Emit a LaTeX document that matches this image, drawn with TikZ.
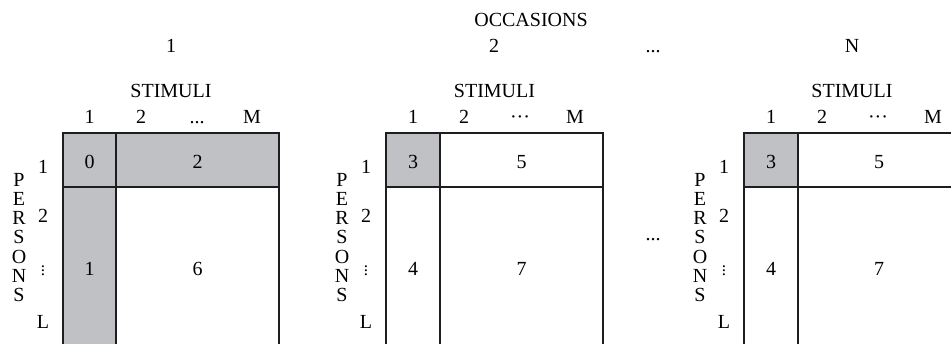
\documentclass[tikz,border=0pt]{standalone}
\usepackage{fontspec}
\setmainfont{Liberation Serif}
\definecolor{cellgray}{RGB}{192,193,197}
\definecolor{linecol}{RGB}{30,30,30}
\begin{document}
\begin{tikzpicture}[x=1pt,y=-1pt,
  lbl/.style={font=\fontsize{20}{24}\selectfont, inner sep=0pt, anchor=base},
  vd/.style={font=\fontsize{17}{20}\selectfont, inner sep=0pt},
  grid/.style={draw=linecol, line width=1.1pt},
  shade/.style={fill=cellgray}]
\useasboundingbox (0,0) rectangle (951,343);
\clip (0,0) rectangle (951,343);

% top labels
\node[lbl] (occ) at (531,26.5) {OCCASIONS};
\node[lbl] (o1) at (171,52) {1};
\node[lbl] (o2) at (494,52) {2};
\node[lbl] (odots) at (653,52) {...};
\node[lbl] (oN) at (852,52) {N};
\node[lbl] (mdots) at (653,240) {...};

% shading
\fill[shade] (63,133) rectangle (116,345);
\fill[shade] (63,133) rectangle (279,187);
\fill[shade] (386,133) rectangle (440,187);
\fill[shade] (744,133) rectangle (798,187);

% matrices: left / divider / right / name
\foreach \L/\D/\R/\m in {63/116/279/a, 386/440/603/b, 744/798/960/c} {
  \pgfmathsetmacro{\C}{(\L+\R)/2}
  \pgfmathsetmacro{\Ca}{(\L+\D)/2}
  \draw[grid] (\L,345) -- (\L,133) -- (\R,133) -- (\R,345);
  \draw[grid] (\D,133) -- (\D,345);
  \draw[grid] (\L,187) -- (\R,187);
  \node[lbl] (\m-stim) at (\C,97) {STIMULI};
  \node[lbl] (\m-c1) at (\Ca,123) {1};
  \node[lbl] (\m-c2) at (\L+78,123) {2};
  \node[lbl] (\m-cM) at (\L+189,123) {M};
  \node[lbl] (\m-r1) at (\L-20,173) {1};
  \node[lbl] (\m-r2) at (\L-20,222) {2};
  \node[vd] (\m-rv) at (\L-20,268) {$\vdots$};
  \node[lbl] (\m-rL) at (\L-20,328.5) {L};
  \foreach \l [count=\i from 0] in {P,E,R,S,O,N,S}
    \node[lbl] (\m-p\i) at (\L-44,186.6+19.1*\i) {\l};
}
% column dots
\node[lbl] (a-cd) at (63+134,123) {...};
\node[lbl] (b-cd) at (386+134,123) {\char"00B7\char"00B7\char"00B7};
\node[lbl] (c-cd) at (744+134,123) {\char"00B7\char"00B7\char"00B7};

% cell labels
\node[lbl] (a-0) at (89.5,168) {0};
\node[lbl] (a-2) at (197.5,168) {2};
\node[lbl] (a-1) at (89.5,275) {1};
\node[lbl] (a-6) at (197.5,275) {6};
\node[lbl] (b-3) at (413,168) {3};
\node[lbl] (b-5) at (521.5,168) {5};
\node[lbl] (b-4) at (413,275) {4};
\node[lbl] (b-7) at (521.5,275) {7};
\node[lbl] (c-3) at (771,168) {3};
\node[lbl] (c-5) at (879,168) {5};
\node[lbl] (c-4) at (771,275) {4};
\node[lbl] (c-7) at (879,275) {7};
\end{tikzpicture}
\end{document}
